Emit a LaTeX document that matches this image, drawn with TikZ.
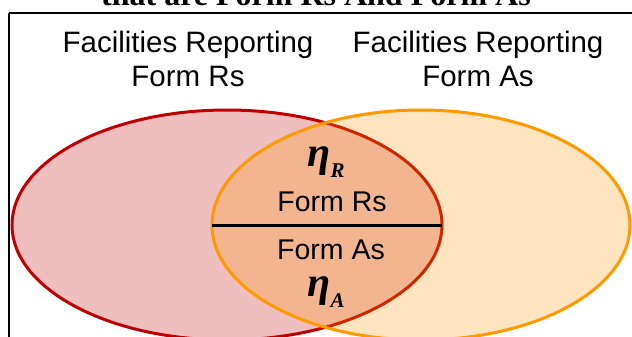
\documentclass[tikz,border=0pt]{standalone}
\usepackage{fontspec}
\setmainfont{Liberation Sans}
\newfontfamily\titlefont{Liberation Serif}
\usetikzlibrary{shapes.geometric}
\definecolor{vred}{RGB}{192,0,0}
\definecolor{vorange}{RGB}{255,153,0}
\tikzset{
  label text/.style={font=\fontsize{29.5}{34}\selectfont, align=center, inner sep=0pt, anchor=base},
  inner text/.style={font=\fontsize{28.5}{34}\selectfont, inner sep=0pt, anchor=base},
  eta text/.style={inner sep=0pt, anchor=base},
  venn/.style={ellipse, inner sep=0pt, outer sep=0pt, minimum width=#1, minimum height=230pt, line width=3pt, fill opacity=0.25},
}
\newcommand{\etasym}[1]{{\titlefont\bfseries\itshape\fontsize{42}{44}\selectfont η}\raisebox{-11pt}{\titlefont\bfseries\itshape\fontsize{21}{22}\selectfont #1}}
\begin{document}
\begin{tikzpicture}[x=1pt,y=-1pt]
\useasboundingbox (0,0) rectangle (632,337);
\clip (0,0) rectangle (632,337);
\fill[white] (0,0) rectangle (632,337);
% title (cut off at top)
\node[inner sep=0pt, anchor=base, font=\titlefont\bfseries\fontsize{32}{34}\selectfont] (title) at (316,6) {that are Form Rs And Form As};
% frame
\draw[line width=2.5pt] (9,13) -- (660,13);
\draw[line width=2.5pt] (9,13) -- (9,360);
% ellipses
\node[venn=430pt, draw=vred, fill=vred] (red) at (227,225) {};
\node[venn=418pt, draw=vorange, fill=vorange] (orange) at (421,225) {};
% divider
\draw[line width=3pt] (orange.west) -- (red.east);
% labels
\node[label text] (lblR) at (188,87) {Facilities Reporting\\Form Rs};
\node[label text] (lblA) at (478,87) {Facilities Reporting\\Form As};
\node[eta text] (etaR) at (326,166) {\etasym{R}};
\node[inner text] (formR) at (332,211) {Form Rs};
\node[inner text] (formA) at (331,259) {Form As};
\node[eta text] (etaA) at (326,296) {\etasym{A}};
\end{tikzpicture}
\end{document}
